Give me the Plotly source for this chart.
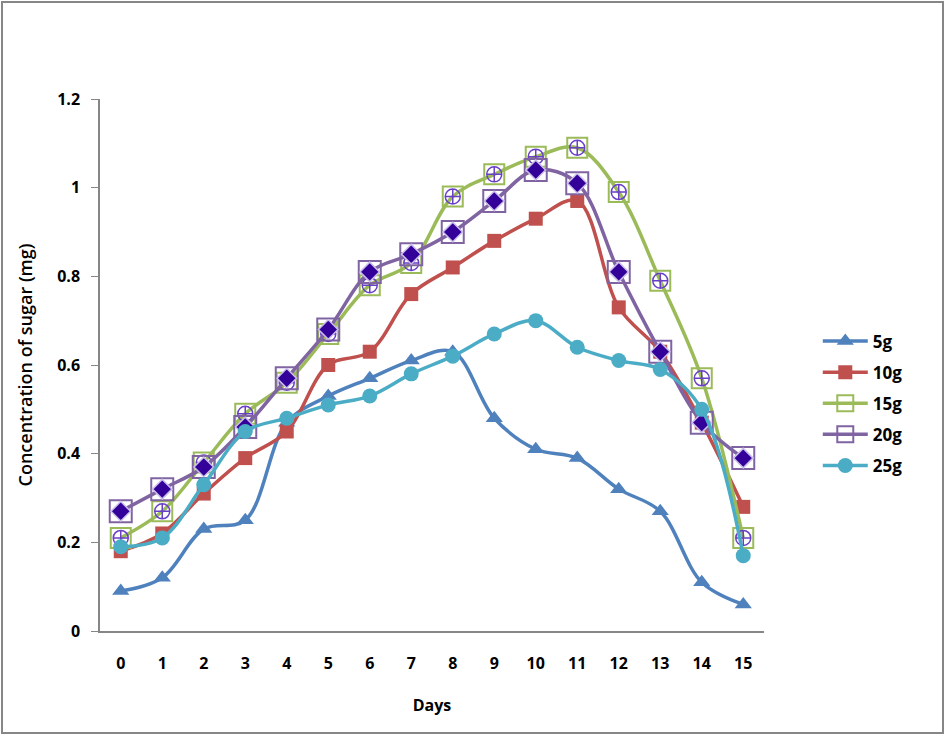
import plotly.graph_objects as go

days = list(range(16))
day_labels = [str(d) for d in days]
s5 = [0.09, 0.12, 0.23, 0.25, 0.47, 0.53, 0.57, 0.61, 0.63, 0.48, 0.41, 0.39, 0.32, 0.27, 0.11, 0.06]
s10 = [0.18, 0.22, 0.31, 0.39, 0.45, 0.60, 0.63, 0.76, 0.82, 0.88, 0.93, 0.97, 0.73, 0.63, 0.47, 0.28]
s15 = [0.21, 0.27, 0.38, 0.49, 0.56, 0.67, 0.78, 0.83, 0.98, 1.03, 1.07, 1.09, 0.99, 0.79, 0.57, 0.21]
s20 = [0.27, 0.32, 0.37, 0.46, 0.57, 0.68, 0.81, 0.85, 0.90, 0.97, 1.04, 1.01, 0.81, 0.63, 0.47, 0.39]
s25 = [0.19, 0.21, 0.33, 0.45, 0.48, 0.51, 0.53, 0.58, 0.62, 0.67, 0.70, 0.64, 0.61, 0.59, 0.50, 0.17]

FONT = "Open Sans"
fig = go.Figure()

def line_trace(name, y, color, symbol, size, mcolor=None, mline=None, show=True, group=None):
    return go.Scatter(
        x=days, y=y, name=name, mode="lines+markers",
        line=dict(color=color, width=3.5, shape="spline", smoothing=1.0),
        marker=dict(symbol=symbol, size=size, color=mcolor or color,
                    line=mline or dict(width=0)),
        legendgroup=group or name, showlegend=show,
    )

fig.add_trace(line_trace("5g", s5, "#4F81BD", "triangle-up", 15))
fig.add_trace(line_trace("10g", s10, "#C0504D", "square", 14))
fig.add_trace(line_trace("15g", s15, "#9BBB59", "square-open", 20,
                         mline=dict(color="#9BBB59", width=2)))
fig.add_trace(go.Scatter(x=days, y=s15, mode="markers", showlegend=False, legendgroup="15g",
                         marker=dict(symbol="circle-cross-open", size=15, color="#6A3FC8",
                                     line=dict(color="#6A3FC8", width=1.5))))
fig.add_trace(line_trace("20g", s20, "#8064A2", "square-open", 22,
                         mline=dict(color="#8064A2", width=2)))
fig.add_trace(go.Scatter(x=days, y=s20, mode="markers", showlegend=False, legendgroup="20g",
                         marker=dict(symbol="diamond", size=15, color="#330099",
                                     line=dict(color="#C9BDEB", width=1.5))))
fig.add_trace(line_trace("25g", s25, "#4BACC6", "circle", 15))

fig.update_layout(
    width=946, height=736,
    margin=dict(l=100, r=182, t=99, b=105),
    paper_bgcolor="white", plot_bgcolor="white",
    font=dict(family=FONT, size=15, color="black"),
    showlegend=True,
    legend=dict(x=1.081, y=0.578, xanchor="left", yanchor="top",
                font=dict(family=FONT, size=17, color="black", weight="bold"),
                itemwidth=45, tracegroupgap=6, bgcolor="rgba(0,0,0,0)"),
    xaxis=dict(
        range=[-0.5, 15.5], tickmode="array", tickvals=days, ticktext=day_labels,
        showline=True, linecolor="#868686", linewidth=1.5, ticks="", showgrid=False,
        zeroline=False, tickfont=dict(family=FONT, size=16, weight="bold"),
        ticklabelstandoff=17,
        title=dict(text="Days", font=dict(family=FONT, size=16, weight="bold"), standoff=27),
    ),
    yaxis=dict(
        range=[0, 1.2], dtick=0.2, tickformat="~g",
        showline=True, linecolor="#868686", linewidth=1.5, ticks="outside", ticklen=7,
        tickcolor="#868686", showgrid=False, zeroline=False,
        tickfont=dict(family=FONT, size=16, weight="bold"), ticklabelstandoff=8,
        title=dict(text="Concentration of sugar (mg)", font=dict(family=FONT, size=18, weight=600), standoff=20),
    ),
    shapes=[dict(type="rect", xref="paper", yref="paper",
                 x0=(2-100)/664, x1=(943-100)/664, y0=(631-733)/532, y1=(631-2)/532,
                 line=dict(color="#868686", width=2), fillcolor="rgba(0,0,0,0)", layer="below")],
)

fig.write_html("out.html", config={"displayModeBar": False},
               post_script="document.body.style.margin='0';document.body.style.overflow='hidden';")
